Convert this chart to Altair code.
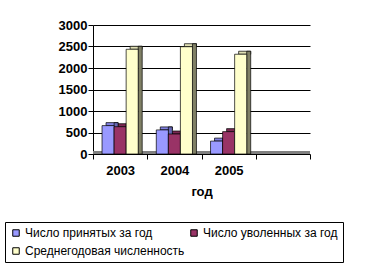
import altair as alt
import pandas as pd

years = ["2003", "2004", "2005"]
n_slots = 4
series = ["Число принятых за год", "Число уволенных за год", "Среднегодовая численность"]
hired = [660, 560, 300]
fired = [635, 465, 520]
average = [2435, 2495, 2320]

front_colors = ["#9999FF", "#993366", "#FFFFCC"]
top_colors = ["#8080E0", "#7A2852", "#E0E0B4"]
side_colors = ["#6666B3", "#5E1F3E", "#808066"]

rows = []
for i, y in enumerate(years):
    for s, vals in enumerate([hired, fired, average]):
        rows.append({"year": y, "yi": i, "si": s, "series": series[s], "value": vals[i],
                     "top": top_colors[s], "side": side_colors[s]})
df = pd.DataFrame(rows)

FONT = "Liberation Sans"
OUTER = 0.75
STEPS = len(series) + 2 * OUTER

label_expr = " : ".join(
    f"datum.value == {i + 0.5} ? '{y}'" for i, y in enumerate(years)
) + " : ''"

xscale = alt.Scale(domain=[0, n_slots], nice=False, zero=False)
xaxis = alt.Axis(title="год", values=[v * 0.5 for v in range(2 * n_slots + 1)],
                 labelExpr=label_expr, grid=False, domain=False, tickSize=5,
                 tickOpacity=alt.condition("datum.value % 1 != 0", alt.value(0), alt.value(1)),
                 labelPadding=5, titlePadding=8, labelAngle=0)
yscale = alt.Scale(domain=[0, 3000])
yaxis = alt.Axis(title=None, values=[0, 500, 1000, 1500, 2000, 2500, 3000], format="d",
                 grid=True, tickSize=5, labelPadding=1)

base = alt.Chart(df).transform_calculate(
    x0=f"datum.yi + (datum.si + {OUTER}) / {STEPS}",
    x1=f"datum.yi + (datum.si + 1 + {OUTER}) / {STEPS}",
)

floor = base.mark_rule(color="#808080", strokeWidth=3, yOffset=-1.5).encode(
    y=alt.datum(0, scale=yscale, axis=yaxis)
)

top = base.mark_bar(stroke="black", strokeWidth=0.7, xOffset=4, x2Offset=4,
                    yOffset=-3, y2Offset=0).encode(
    x=alt.X("x0:Q", scale=xscale, axis=xaxis), x2="x1:Q",
    y=alt.Y("value:Q", scale=yscale, axis=yaxis), y2="value:Q",
    color=alt.Color("top:N", scale=None, legend=None),
)

side = base.mark_bar(stroke="black", strokeWidth=0.7, x2Offset=4, yOffset=-3).encode(
    x=alt.X("x1:Q", scale=xscale, axis=xaxis), x2="x1:Q",
    y=alt.Y("value:Q", scale=yscale, axis=yaxis), y2=alt.datum(0),
    color=alt.Color("side:N", scale=None, legend=None),
)

front = base.mark_bar(stroke="black", strokeWidth=0.7).encode(
    x=alt.X("x0:Q", scale=xscale, axis=xaxis), x2="x1:Q",
    y=alt.Y("value:Q", scale=yscale, axis=yaxis), y2=alt.datum(0),
    fill=alt.Fill("series:N", sort=series,
                  scale=alt.Scale(domain=series, range=front_colors),
                  legend=alt.Legend(title=None, orient="none", legendX=-88, legendY=197,
                                    direction="horizontal",
                                    columns=2, gridAlign="all", symbolType="square",
                                    symbolSize=42, symbolStrokeColor="black",
                                    symbolStrokeWidth=1, labelOffset=3, columnPadding=3,
                                    rowPadding=6, padding=5, strokeColor="black",
                                    labelLimit=300, labelFontSize=12, labelFont=FONT,
                                    labelColor="black")),
)

chart = alt.layer(floor, top, side, front).properties(
    width=217, height=129,
    autosize=alt.AutoSizeParams(type="none"),
    padding={"left": 93, "top": 25, "right": 57, "bottom": 116},
).configure_view(stroke=None).configure_axis(
    labelFont=FONT, titleFont=FONT, labelFontSize=13, labelFontWeight="bold",
    titleFontSize=13, titleFontWeight="bold", labelColor="black", titleColor="black",
    domainColor="black", tickColor="black", gridColor="black", gridOpacity=1,
)

chart.save("out.html", embed_options={"renderer": "svg", "actions": False})
